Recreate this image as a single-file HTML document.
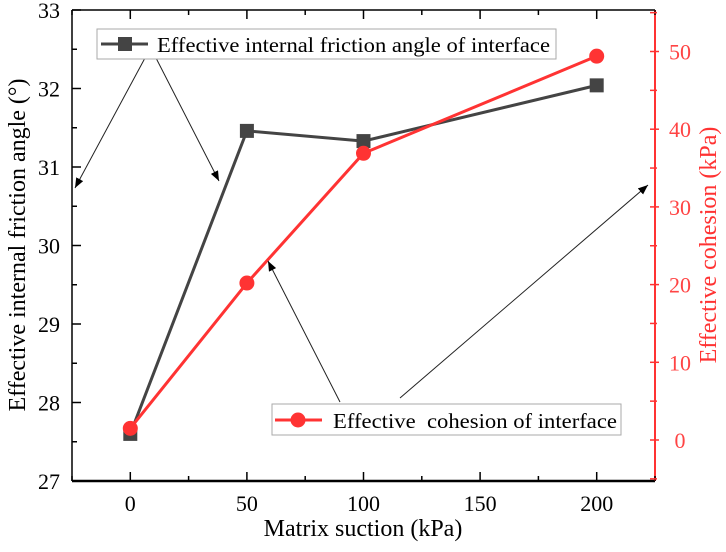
<!DOCTYPE html>
<html><head><meta charset="utf-8"><style>
html,body{margin:0;padding:0;background:#fff;}
text{font-family:"Liberation Serif","Times New Roman",serif !important;}
</style></head><body>
<svg id="chart" width="726" height="547" viewBox="0 0 726 547" xmlns="http://www.w3.org/2000/svg" font-family="Liberation Serif, serif">
<g id="plot"></g>
</svg>
<script>
const categories=[0,50,100,200];
const frictionAngle=[27.6,31.46,31.33,32.04];
const cohesion=[1.5,20.2,36.9,49.4];
const xTicks=[0,50,100,150,200];
const yLeftTicks=[27,28,29,30,31,32,33];
const yRightTicks=[0,10,20,30,40,50];

const L=72,R=655,T=10,B=481;
const xS=v=>L+(v+25)/250*(R-L);
const yL=v=>B-(v-27)/6*(B-T);
const yR=v=>440-v*7.77;
const NS="http://www.w3.org/2000/svg";
const g=document.getElementById('plot');
function mk(tag,attrs,parent){const e=document.createElementNS(NS,tag);for(const k in attrs)e.setAttribute(k,attrs[k]);if(tag==='text')e.setAttribute('font-family','Liberation Serif, serif');(parent||g).appendChild(e);return e;}

let e;
e=mk('line',{x1:L,y1:B,x2:R,y2:B,stroke:'#000','stroke-width':2.5});


e=mk('line',{x1:L,y1:T,x2:R,y2:T,stroke:'#000','stroke-width':1.5});


e=mk('line',{x1:L,y1:T,x2:L,y2:B,stroke:'#000','stroke-width':1.5});


e=mk('line',{x1:R,y1:T,x2:R,y2:B,stroke:'#f33','stroke-width':2});



for(let v=-25;v<=225;v+=25){
  const x=xS(v);const major=v%50===0;
  mk('line',{x1:x,y1:B,x2:x,y2:B-(major?9:5),stroke:'#000','stroke-width':1.5});
  mk('line',{x1:x,y1:T,x2:x,y2:T+(major?9:5),stroke:'#000','stroke-width':1.5});
}
xTicks.forEach(v=>{const t=mk('text',{x:xS(v),y:511,'text-anchor':'middle','font-size':22});t.textContent=v;

});
for(let v=27;v<=33;v+=0.5){const y=yL(v);mk('line',{x1:L,y1:y,x2:L+(v%1===0?9:5),y2:y,stroke:'#000','stroke-width':1.5});}
yLeftTicks.forEach(v=>{const t=mk('text',{x:60,y:yL(v)+8,'text-anchor':'end','font-size':22});t.textContent=v;

});
for(let v=-5;v<=55;v+=5){const y=yR(v);if(y<T||y>B)continue;mk('line',{x1:R-5,y1:y,x2:R+(v%10===0?4:2),y2:y,stroke:'#f33','stroke-width':1.5});}
yRightTicks.forEach(v=>{const t=mk('text',{x:680,y:yR(v)+8,'text-anchor':'middle','font-size':22,fill:'#f44'});t.textContent=v;

});

e=mk('text',{x:363,y:536,'text-anchor':'middle','font-size':24});e.textContent='Matrix suction (kPa)';


e=mk('text',{x:0,y:0,'text-anchor':'middle','font-size':24,transform:'translate(25,245) rotate(-90)'});e.textContent='Effective internal friction angle (°)';


e=mk('text',{x:0,y:0,'text-anchor':'middle','font-size':24,fill:'#f33',transform:'translate(716,245) rotate(-90)'});e.textContent='Effective cohesion (kPa)';



e=mk('polyline',{points:categories.map((c,i)=>xS(c)+','+yL(frictionAngle[i])).join(' '),fill:'none',stroke:'#444','stroke-width':3});


categories.forEach((c,i)=>{const m=mk('rect',{x:xS(c)-7,y:yL(frictionAngle[i])-7,width:14,height:14,fill:'#444'});

});
e=mk('polyline',{points:categories.map((c,i)=>xS(c)+','+yR(cohesion[i])).join(' '),fill:'none',stroke:'#f33','stroke-width':3});


categories.forEach((c,i)=>{const m=mk('circle',{cx:xS(c),cy:yR(cohesion[i]),r:7.5,fill:'#f33'});

});

const defs=mk('defs',{});
const mkr=mk('marker',{id:'ah',markerWidth:10,markerHeight:8,refX:10,refY:4,orient:'auto',markerUnits:'userSpaceOnUse'},defs);
mk('path',{d:'M0,0 L10,4 L0,8 Z',fill:'#000'},mkr);
[[145,58,75,188],[156,58,219,181],[340,402,268,261],[400,398,648,185]].forEach(a=>{
  const l=mk('line',{x1:a[0],y1:a[1],x2:a[2],y2:a[3],stroke:'#222','stroke-width':1,'marker-end':'url(#ah)'});
  
  
});

const lg1=mk('g',{});


mk('rect',{x:97,y:29,width:459,height:30,fill:'#fff',stroke:'#aaa','stroke-width':1},lg1);
mk('line',{x1:101,y1:44,x2:148,y2:44,stroke:'#444','stroke-width':3},lg1);
mk('rect',{x:118,y:37,width:14,height:14,fill:'#444'},lg1);
e=mk('text',{x:157,y:52,'font-size':21,textLength:393,lengthAdjust:'spacingAndGlyphs'},lg1);e.textContent='Effective internal friction angle of interface';

const lg2=mk('g',{});


mk('rect',{x:272,y:404,width:349,height:31,fill:'#fff',stroke:'#aaa','stroke-width':1},lg2);
mk('line',{x1:275,y1:420,x2:322,y2:420,stroke:'#f33','stroke-width':3},lg2);
mk('circle',{cx:298,cy:420,r:7.5,fill:'#f33'},lg2);
e=mk('text',{x:333,y:428,'font-size':21,textLength:284,lengthAdjust:'spacingAndGlyphs'},lg2);e.textContent='Effective  cohesion of interface';
e.setAttribute('xml:space','preserve');e.style.whiteSpace='pre';
</script>
</body></html>
